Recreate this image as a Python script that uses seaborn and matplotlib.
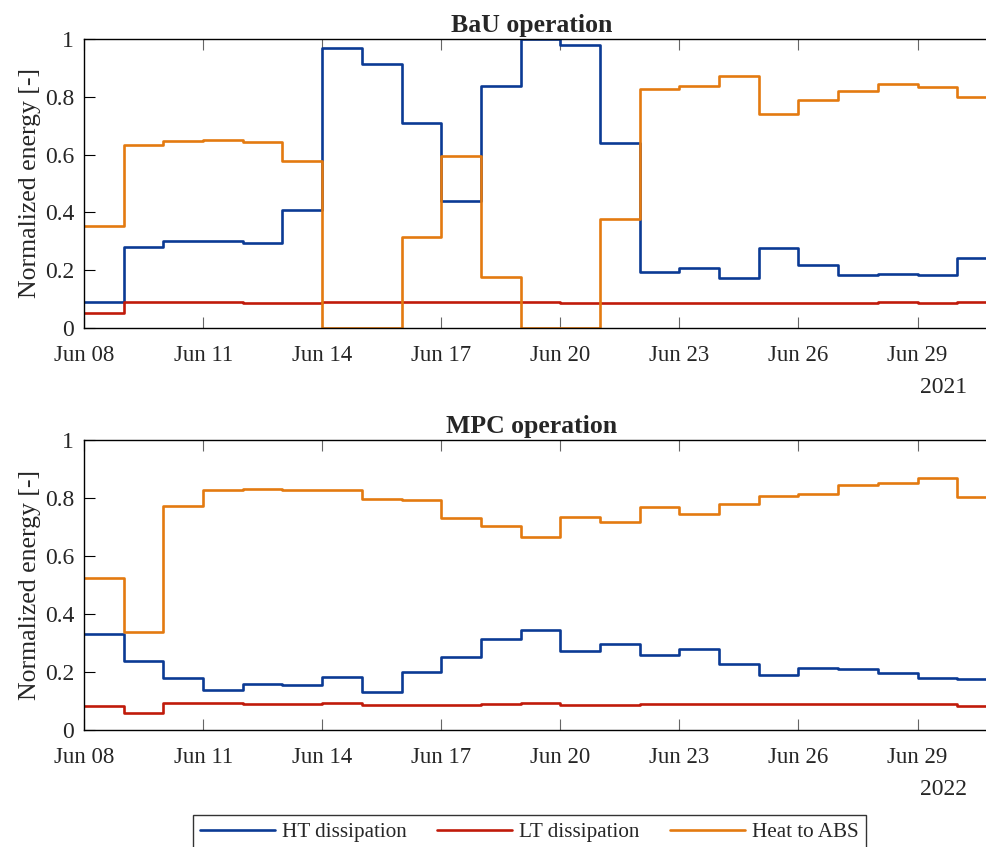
import pandas as pd
import matplotlib
matplotlib.use('Agg')
import matplotlib.pyplot as plt
import matplotlib.dates as mdates
import seaborn as sns

# Daily normalized energy values, Jun 08 - Jun 30
series_names = ['HT dissipation', 'LT dissipation', 'Heat to ABS']
series_colors = ['#0b3a94', '#c01a0a', '#e37a10']

bau_ht = [0.091, 0.28, 0.30, 0.302, 0.293, 0.407, 0.968, 0.913, 0.71, 0.438, 0.838,
          1.0, 0.979, 0.641, 0.193, 0.207, 0.174, 0.277, 0.217, 0.182, 0.187, 0.183, 0.241]
bau_lt = [0.051, 0.089, 0.089, 0.091, 0.088, 0.088, 0.089, 0.089, 0.089, 0.089, 0.089,
          0.089, 0.088, 0.088, 0.087, 0.086, 0.085, 0.088, 0.088, 0.088, 0.089, 0.087, 0.091]
bau_abs = [0.354, 0.633, 0.646, 0.649, 0.645, 0.577, 0.0, 0.0, 0.314, 0.596, 0.178,
           0.0, 0.0, 0.376, 0.828, 0.837, 0.872, 0.742, 0.79, 0.821, 0.845, 0.834, 0.799]

mpc_ht = [0.331, 0.237, 0.18, 0.137, 0.159, 0.155, 0.183, 0.131, 0.199, 0.253, 0.313,
          0.344, 0.271, 0.295, 0.26, 0.28, 0.229, 0.189, 0.215, 0.209, 0.195, 0.179, 0.175]
mpc_lt = [0.083, 0.057, 0.092, 0.092, 0.090, 0.089, 0.092, 0.086, 0.087, 0.087, 0.091,
          0.092, 0.085, 0.087, 0.089, 0.089, 0.089, 0.089, 0.089, 0.089, 0.091, 0.089, 0.083]
mpc_abs = [0.524, 0.339, 0.772, 0.829, 0.831, 0.826, 0.826, 0.797, 0.793, 0.732, 0.705,
           0.667, 0.736, 0.718, 0.769, 0.744, 0.778, 0.808, 0.815, 0.844, 0.852, 0.868, 0.805]


def make_frame(year, ht, lt, ab):
    # one extra day so the last step reaches Jul 01
    dates = pd.date_range(f'{year}-06-08', periods=len(ht) + 1, freq='D')
    rows = []
    for name, vals in zip(series_names, [ht, lt, ab]):
        vals = list(vals) + [vals[-1]]
        rows.append(pd.DataFrame({'date': dates, 'value': vals, 'series': name}))
    return pd.concat(rows, ignore_index=True)


sns.set_style('ticks')
plt.rcParams['font.family'] = ['Liberation Serif', 'DejaVu Serif']

fig = plt.figure(figsize=(9.87, 8.47), dpi=100)
ax1 = fig.add_axes([0.0851, 0.6128, 0.925, 0.3412])
ax2 = fig.add_axes([0.0851, 0.1381, 0.925, 0.3424])

palette = dict(zip(series_names, series_colors))
panels = [(ax1, 2021, bau_ht, bau_lt, bau_abs, 'BaU operation'),
          (ax2, 2022, mpc_ht, mpc_lt, mpc_abs, 'MPC operation')]

for ax, year, ht, lt, ab, title in panels:
    df = make_frame(year, ht, lt, ab)
    sns.lineplot(data=df, x='date', y='value', hue='series', palette=palette,
                 drawstyle='steps-post', linewidth=1.9, legend=False, ax=ax)
    ax.set_xlim(pd.Timestamp(f'{year}-06-08'), pd.Timestamp(f'{year}-07-01'))
    ax.set_ylim(0, 1)
    ax.set_yticks([0, 0.2, 0.4, 0.6, 0.8, 1])
    ax.set_yticklabels(['0', '0.2', '0.4', '0.6', '0.8', '1'])
    ticks = pd.date_range(f'{year}-06-08', f'{year}-06-29', freq='3D')
    ax.set_xticks(ticks)
    ax.xaxis.set_major_formatter(mdates.DateFormatter('%b %d'))
    ax.set_xlabel('')
    ax.set_ylabel('Normalized energy [-]', fontsize=18.5, labelpad=3)
    ax.set_title(title, fontsize=18.5, fontweight='bold', x=0.49, pad=5)
    ax.tick_params(axis='x', direction='in', length=8, top=True,
                   labelsize=16.5, color='#666666', pad=12)
    ax.tick_params(axis='y', direction='in', length=8, right=True,
                   labelsize=17, color='black', pad=7)
    for sp in ax.spines.values():
        sp.set_visible(True)
        sp.set_linewidth(1.0)
        sp.set_color('black')
    ax.text(0.967, -0.205, str(year), transform=ax.transAxes,
            ha='right', va='center', fontsize=17)

handles = [plt.Line2D([], [], color=c, linewidth=1.9) for c in series_colors]
fig.legend(handles, series_names, loc='upper center', bbox_to_anchor=(0.5365, 0.0378),
           ncol=3, frameon=True, fancybox=False, edgecolor='black', fontsize=15.2,
           handlelength=3.55, handletextpad=0.33, columnspacing=1.45,
           borderpad=0.35, borderaxespad=0)

fig.savefig('out.png', dpi=100)
